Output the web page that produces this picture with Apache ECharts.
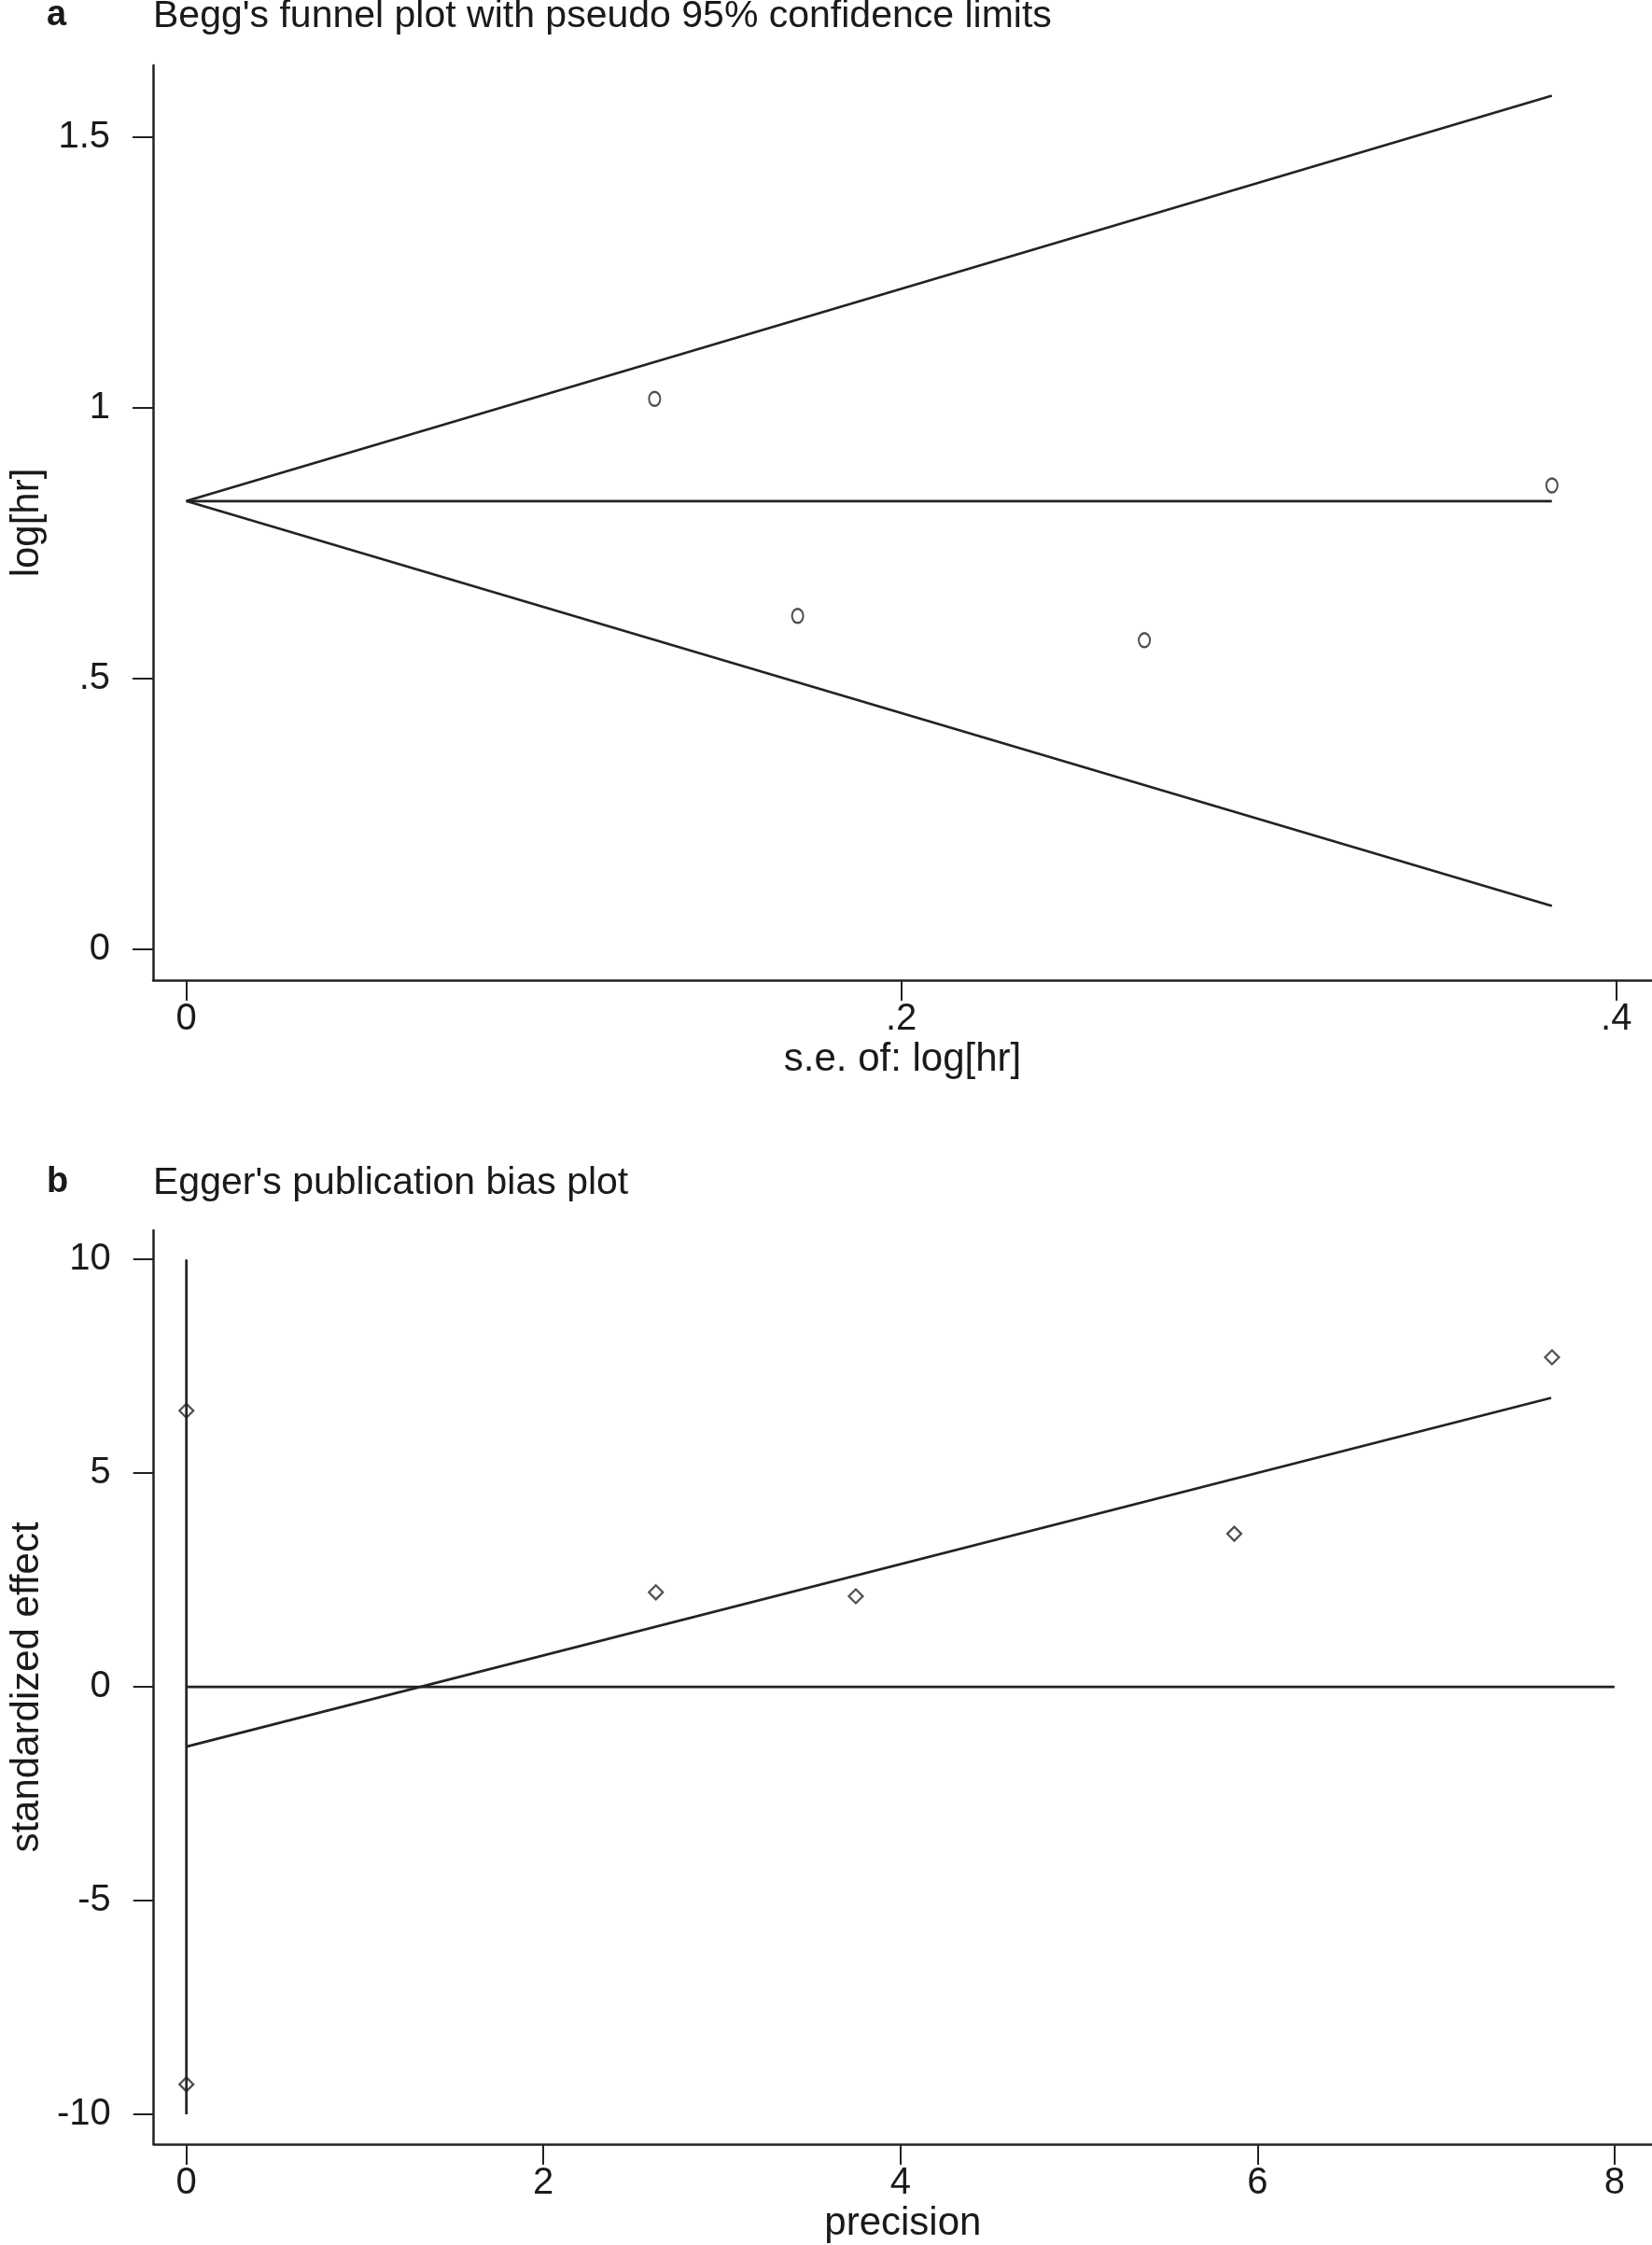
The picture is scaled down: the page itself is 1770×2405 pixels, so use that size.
<!DOCTYPE html>
<html><head><meta charset="utf-8">
<script src="https://cdn.jsdelivr.net/npm/echarts@6/dist/echarts.min.js"></script>
<style>html,body{margin:0;padding:0;background:#fff}#c{width:1770px;height:2405px}</style>
</head><body><div id="c"></div>
<script>
// Panel a: Begg's funnel plot
const seLogHR = [0.131, 0.171, 0.268, 0.382];
const logHR = [1.017, 0.616, 0.571, 0.857];
const funnelSE = [0, 0.382];
const funnelUpper = [0.828, 1.577];
const funnelCenter = [0.828, 0.828];
const funnelLower = [0.828, 0.080];
const aYTicks = [0, 0.5, 1, 1.5];
const aXTicks = [0, 0.2, 0.4];

// Panel b: Egger's publication bias plot
const precision = [0, 0, 2.63, 3.75, 5.87, 7.65];
const stdEffect = [6.46, -9.30, 2.21, 2.12, 3.58, 7.71];
const fitX = [0, 7.645];
const fitY = [-1.40, 6.76];
const zeroX = [0, 8];
const zeroY = [0, 0];
const ciX = [0, 0];
const ciY = [10, -10];
const bYTicks = [-10, -5, 0, 5, 10];
const bXTicks = [0, 2, 4, 6, 8];

const FONT = '"Liberation Sans", Arial, sans-serif';
const INK = '#1a1a1a';
const LINE = '#222';
const fmt = v => { let s = String(+v.toFixed(4)); return s.replace(/^0\./, '.').replace(/^-0\./, '-.'); };
const zip = (xs, ys) => xs.map((x, i) => [x, ys[i]]);

function xAxis(grid, min, max, ticks, name) {
  return {
    type: 'value', gridIndex: grid, min, max, position: 'bottom',
    name, nameLocation: 'middle', nameGap: 64,
    nameTextStyle: { fontFamily: FONT, fontSize: 42, color: INK },
    axisLine: { show: true, onZero: false, lineStyle: { color: LINE, width: 2.5 } },
    axisTick: { show: true, inside: false, length: 22, customValues: ticks, lineStyle: { color: LINE, width: 2 } },
    axisLabel: { show: true, margin: 22, customValues: ticks, formatter: fmt, fontFamily: FONT, fontSize: 40, color: INK },
    splitLine: { show: false }
  };
}
function yAxis(grid, min, max, ticks, name) {
  return {
    type: 'value', gridIndex: grid, min, max, position: 'left',
    name, nameLocation: 'middle', nameGap: 114,
    nameTextStyle: { fontFamily: FONT, fontSize: 42, color: INK },
    axisLine: { show: true, onZero: false, lineStyle: { color: LINE, width: 2.5 } },
    axisTick: { show: true, inside: false, length: 22, customValues: ticks, lineStyle: { color: LINE, width: 2 } },
    axisLabel: { show: true, margin: 46, customValues: ticks, formatter: fmt, fontFamily: FONT, fontSize: 40, color: INK },
    splitLine: { show: false }
  };
}
function lineSeries(xi, yi, data) {
  return { type: 'line', xAxisIndex: xi, yAxisIndex: yi, data, symbol: 'none', silent: true,
    lineStyle: { color: LINE, width: 2.7 }, z: 2 };
}

const chart = echarts.init(document.getElementById('c'), null, { renderer: 'canvas' });
chart.setOption({
  animation: false,
  backgroundColor: '#fff',
  title: [
    { text: 'a', left: 50, top: -2, padding: 0, textStyle: { fontFamily: FONT, fontSize: 38, fontWeight: 'bold', color: INK } },
    { text: "Begg's funnel plot with pseudo 95% confidence limits", left: 164, top: -3, padding: 0, textStyle: { fontFamily: FONT, fontSize: 41, fontWeight: 'normal', color: INK } },
    { text: 'b', left: 50, top: 1248, padding: 0, textStyle: { fontFamily: FONT, fontSize: 38, fontWeight: 'bold', color: INK } },
    { text: "Egger's publication bias plot", left: 164, top: 1247, padding: 0, textStyle: { fontFamily: FONT, fontSize: 41, fontWeight: 'normal', color: INK } }
  ],
  grid: [
    { left: 162, top: 70, right: 0, height: 980, containLabel: false },
    { left: 163, top: 1318, right: 0, height: 979, containLabel: false }
  ],
  xAxis: [
    xAxis(0, -0.0093, 0.41, aXTicks, 's.e. of: log[hr]'),
    xAxis(1, -0.183, 8.21, bXTicks, 'precision')
  ],
  yAxis: [
    yAxis(0, -0.057, 1.633, aYTicks, 'log[hr]'),
    yAxis(1, -10.70, 10.68, bYTicks, 'standardized effect')
  ],
  series: [
    lineSeries(0, 0, zip(funnelSE, funnelUpper)),
    lineSeries(0, 0, zip(funnelSE, funnelCenter)),
    lineSeries(0, 0, zip(funnelSE, funnelLower)),
    { type: 'scatter', xAxisIndex: 0, yAxisIndex: 0, data: zip(seLogHR, logHR), symbol: 'circle', symbolSize: [12, 15],
      itemStyle: { color: 'rgba(255,255,255,0)', borderColor: LINE, borderWidth: 2.2 }, z: 3 },
    lineSeries(1, 1, zip(ciX, ciY)),
    lineSeries(1, 1, zip(zeroX, zeroY)),
    lineSeries(1, 1, zip(fitX, fitY)),
    { type: 'scatter', xAxisIndex: 1, yAxisIndex: 1, data: zip(precision, stdEffect), symbol: 'diamond', symbolSize: [15, 15],
      itemStyle: { color: 'rgba(255,255,255,0)', borderColor: LINE, borderWidth: 2.2 }, z: 3 }
  ]
});
</script>
</body></html>
